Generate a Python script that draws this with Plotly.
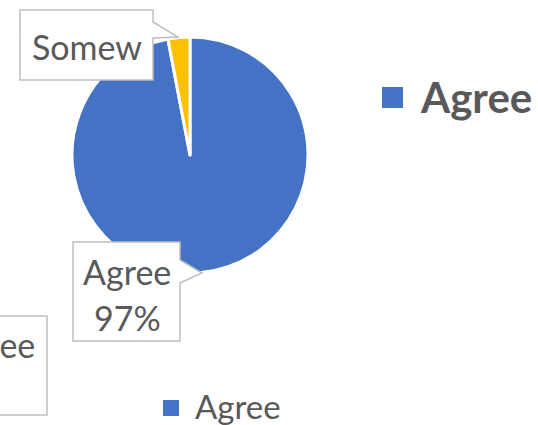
import plotly.graph_objects as go

# Survey response shares
labels = ["Agree", "Somewhat Agree"]
values = [97, 3]
colors = ["#4472C4", "#FFC000"]

W, H = 538, 425
TEXT = "#595959"
EDGE = "#BFBFBF"
FONT = "Lato"


def px(x):
    return x / W


def py(y):
    return 1 - y / H


fig = go.Figure()

fig.add_trace(go.Pie(
    labels=labels,
    values=values,
    sort=False,
    direction="clockwise",
    rotation=0,
    marker=dict(colors=colors, line=dict(color="white", width=3)),
    textinfo="none",
    hoverinfo="label+percent",
    showlegend=False,
    domain=dict(x=[px(72), px(308)], y=[py(273), py(37)]),
))


def path(points):
    return "M " + " L ".join(f"{px(x):.5f},{py(y):.5f}" for x, y in points) + " Z"


def swatch(x0, y0, size, color):
    return dict(type="rect", xref="paper", yref="paper",
                x0=px(x0), x1=px(x0 + size), y0=py(y0 + size), y1=py(y0),
                fillcolor=color, line=dict(width=0), layer="above")


shapes = [
    # callout for the small slice
    dict(type="path", xref="paper", yref="paper",
         path=path([(20, 10), (153, 10), (153, 22), (178, 37), (153, 38), (153, 80), (20, 80)]),
         fillcolor="white", line=dict(color=EDGE, width=1.5), layer="above"),
    # callout for the main slice
    dict(type="path", xref="paper", yref="paper",
         path=path([(73, 242), (180, 242), (180, 260), (202, 273), (180, 283), (180, 341), (73, 341)]),
         fillcolor="white", line=dict(color=EDGE, width=1.5), layer="above"),
    # callout running off the left edge
    dict(type="path", xref="paper", yref="paper",
         path=path([(-80, 316), (47, 316), (47, 415), (-80, 415)]),
         fillcolor="white", line=dict(color=EDGE, width=1.5), layer="above"),
    # legend swatches
    swatch(382, 87, 21, colors[0]),
    swatch(163, 400, 16, colors[0]),
]

annotations = [
    dict(x=px(87), y=py(46), text=labels[1][:5], xanchor="center", yanchor="middle",
         font=dict(family=FONT, size=34, color=TEXT)),
    dict(x=px(127), y=py(271), text=labels[0], xanchor="center", yanchor="middle",
         font=dict(family=FONT, size=34, color=TEXT)),
    dict(x=px(127), y=py(317), text=f"{values[0]}%", xanchor="center", yanchor="middle",
         font=dict(family=FONT, size=34, color=TEXT)),
    dict(x=px(37), y=py(344), text=labels[0], xanchor="right", yanchor="middle",
         font=dict(family=FONT, size=34, color=TEXT)),
    # legend beside the pie
    dict(x=px(418), y=py(97), text=f"<b>{labels[0]}</b>", xanchor="left", yanchor="middle",
         font=dict(family=FONT, size=42, color=TEXT)),
    # legend below the pie
    dict(x=px(193), y=py(406), text=labels[0], xanchor="left", yanchor="middle",
         font=dict(family=FONT, size=33, color=TEXT)),
]
for a in annotations:
    a.update(xref="paper", yref="paper", showarrow=False)

fig.update_layout(
    width=W, height=H,
    margin=dict(l=0, r=0, t=0, b=0),
    paper_bgcolor="white",
    plot_bgcolor="white",
    shapes=shapes,
    annotations=annotations,
)

fig.write_html("out.html")
